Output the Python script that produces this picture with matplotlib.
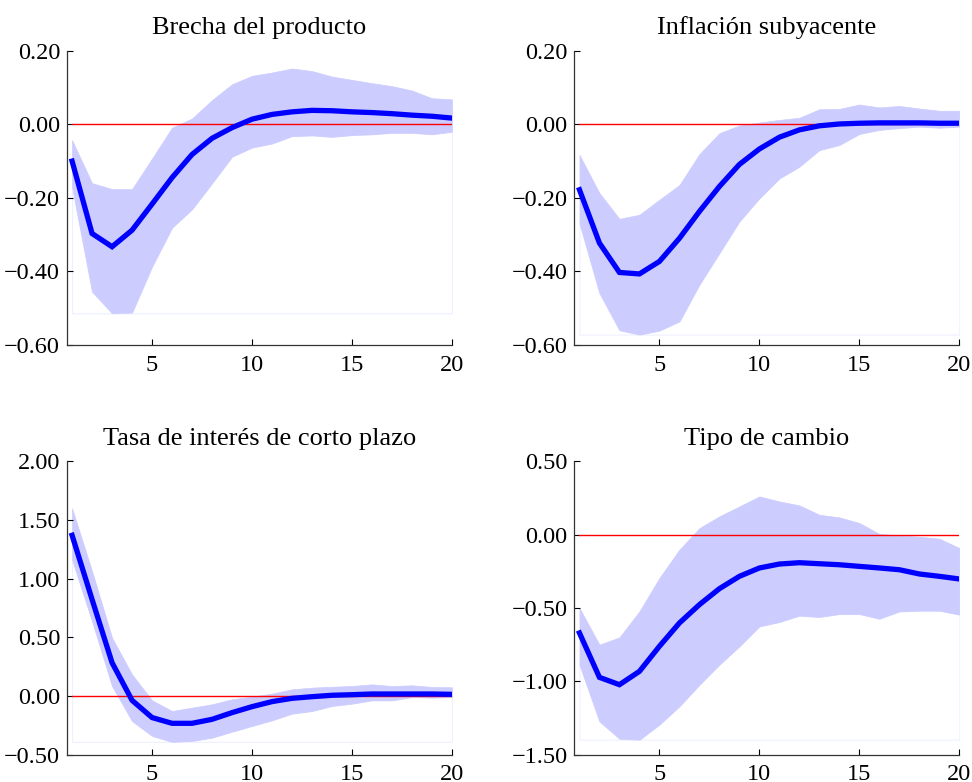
import numpy as np
import matplotlib
matplotlib.use('Agg')
import matplotlib.pyplot as plt

plt.rcParams['font.family'] = ['Liberation Serif', 'DejaVu Serif']

horizon = np.arange(1, 21)

titles = ['Brecha del producto', 'Inflación subyacente',
          'Tasa de interés de corto plazo', 'Tipo de cambio']

# impulse responses (median) and bands
brecha = [-0.100, -0.297, -0.333, -0.288, -0.217, -0.145, -0.082, -0.038, -0.009, 0.014,
          0.027, 0.034, 0.038, 0.037, 0.034, 0.032, 0.029, 0.025, 0.022, 0.017]
brecha_up = [-0.043, -0.160, -0.176, -0.176, -0.093, -0.009, 0.016, 0.066, 0.109, 0.132,
             0.141, 0.152, 0.145, 0.130, 0.121, 0.112, 0.104, 0.092, 0.071, 0.068]
brecha_lo = [-0.170, -0.455, -0.514, -0.512, -0.387, -0.281, -0.231, -0.160, -0.088, -0.063,
             -0.052, -0.032, -0.030, -0.034, -0.029, -0.027, -0.023, -0.023, -0.027, -0.020]

infl = [-0.178, -0.323, -0.403, -0.407, -0.373, -0.310, -0.237, -0.169, -0.109, -0.067,
        -0.035, -0.015, -0.004, 0.001, 0.003, 0.004, 0.004, 0.004, 0.003, 0.003]
infl_up = [-0.083, -0.187, -0.257, -0.246, -0.205, -0.165, -0.081, -0.024, -0.003, 0.005,
           0.012, 0.018, 0.041, 0.042, 0.054, 0.046, 0.050, 0.043, 0.037, 0.037]
infl_lo = [-0.269, -0.459, -0.560, -0.572, -0.561, -0.536, -0.436, -0.350, -0.264, -0.201,
           -0.147, -0.115, -0.070, -0.056, -0.026, -0.015, -0.010, -0.006, -0.009, -0.006]

tasa = [1.370, 0.823, 0.284, -0.037, -0.184, -0.233, -0.233, -0.199, -0.142, -0.091,
        -0.048, -0.020, -0.006, 0.006, 0.011, 0.017, 0.017, 0.017, 0.017, 0.014]
tasa_up = [1.600, 1.064, 0.496, 0.184, -0.037, -0.128, -0.099, -0.071, -0.028, -0.006,
           0.020, 0.057, 0.071, 0.079, 0.085, 0.099, 0.085, 0.091, 0.077, 0.074]
tasa_lo = [1.163, 0.638, 0.085, -0.213, -0.340, -0.391, -0.383, -0.355, -0.304, -0.255,
           -0.207, -0.150, -0.128, -0.085, -0.065, -0.037, -0.037, -0.009, -0.014, -0.009]

tc = [-0.670, -0.973, -1.023, -0.932, -0.761, -0.602, -0.477, -0.368, -0.284, -0.227,
      -0.200, -0.191, -0.198, -0.205, -0.216, -0.227, -0.239, -0.268, -0.284, -0.302]
tc_up = [-0.500, -0.750, -0.700, -0.523, -0.295, -0.102, 0.045, 0.125, 0.193, 0.261,
         0.227, 0.200, 0.136, 0.118, 0.080, 0.005, -0.005, -0.014, -0.027, -0.091]
tc_lo = [-0.886, -1.273, -1.391, -1.398, -1.295, -1.170, -1.023, -0.886, -0.761, -0.625,
         -0.595, -0.552, -0.561, -0.541, -0.541, -0.573, -0.523, -0.518, -0.518, -0.545]

ylims = [(-0.6, 0.2), (-0.6, 0.2), (-0.5, 2.0), (-1.5, 0.5)]
ysteps = [0.2, 0.2, 0.5, 0.5]

series = [(brecha, brecha_lo, brecha_up), (infl, infl_lo, infl_up),
          (tasa, tasa_lo, tasa_up), (tc, tc_lo, tc_up)]

# axes boxes in figure fractions [left, bottom, width, height]
boxes = [[0.069, 0.559, 0.396, 0.376], [0.591, 0.559, 0.396, 0.376],
         [0.069, 0.035, 0.396, 0.375], [0.591, 0.035, 0.396, 0.375]]

fig = plt.figure(figsize=(9.72, 7.82), dpi=100)

for i in range(4):
    ax = fig.add_axes(boxes[i])
    mid, lo, up = series[i]
    lo = np.array(lo)
    base = lo.min()
    # white area under the band (leaves a faint edge like the original)
    ax.fill_between(horizon, base, lo, facecolor='white', edgecolor='#eef0ff', lw=0.8)
    ax.fill_between(horizon, lo, up, facecolor='#ccccff', edgecolor='#ccccff', lw=0.5)
    ax.plot(horizon, np.zeros(len(horizon)), color='red', lw=1.0)
    ax.plot(horizon, mid, color='blue', lw=3.8, solid_joinstyle='miter')

    ax.set_xlim(0.75, 20)
    ax.set_ylim(*ylims[i])
    ax.set_xticks([5, 10, 15, 20])
    ax.set_yticks(np.arange(ylims[i][0], ylims[i][1] + 1e-9, ysteps[i]))
    ax.yaxis.set_major_formatter(plt.FuncFormatter(lambda v, p: f'{v:.2f}'.replace('-', '\u2212')))
    ax.tick_params(direction='in', length=4, width=0.8, labelsize=17.5, colors='black')
    ax.tick_params(axis='x', pad=7)
    ax.tick_params(axis='y', pad=5)
    for s in ['top', 'right']:
        ax.spines[s].set_visible(False)
    for s in ['left', 'bottom']:
        ax.spines[s].set_linewidth(0.9)
        ax.spines[s].set_color('#333333')
    ax.set_title(titles[i], fontsize=19, pad=12)

fig.savefig('out.png', dpi=100)
